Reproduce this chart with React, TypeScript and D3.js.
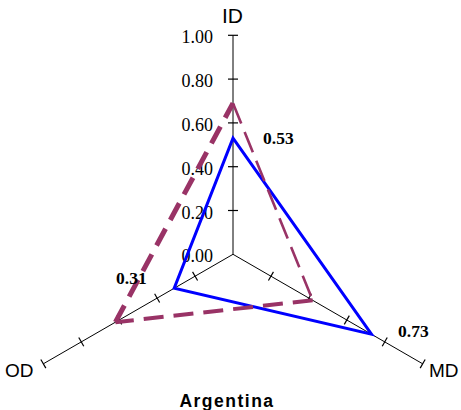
import React from "react";
import * as d3 from "d3";

// Axis names, clockwise from the top
const axes = ["ID", "MD", "OD"];
const axisAngles = [-90, 30, 150];
const tickValues = [0, 0.2, 0.4, 0.6, 0.8, 1.0];
const tickLabels = ["0.00", "0.20", "0.40", "0.60", "0.80", "1.00"];

// Series values on ID, MD, OD
const countryValues = [0.53, 0.73, 0.31];
const referenceValues = [0.69, 0.42, 0.62];
const valueLabels = ["0.53", "0.73", "0.31"];

const title = "Argentina";

const W = 461;
const H = 410;
const cx = 233;
const cy = 254.3;
const R = 219;

const r = d3.scaleLinear().domain([0, 1]).range([0, R]);

function pt(angleDeg: number, v: number): [number, number] {
  const a = (angleDeg * Math.PI) / 180;
  return [cx + r(v) * Math.cos(a), cy + r(v) * Math.sin(a)];
}

const PURPLE = "#993366";
const BLUE = "#0000FF";

export default function App() {
  const line = d3.line<[number, number]>();

  const bluePts = countryValues.map((v, i) => pt(axisAngles[i], v));
  const purplePts = referenceValues.map((v, i) => pt(axisAngles[i], v));

  // per-edge stroke widths of the dashed series: ID-MD, MD-OD, OD-ID
  const dashedEdges = [
    { from: 0, to: 1, width: 2.6, dash: "22,9" },
    { from: 1, to: 2, width: 4, dash: "20,10" },
    { from: 2, to: 0, width: 5, dash: "19,10" },
  ];

  const tickHalf = 5;

  return (
    <svg
      width={W}
      height={H}
      style={{ position: "absolute", left: 0, top: 0, background: "#fff" }}
    >
      {/* axes */}
      {axisAngles.map((ang, i) => {
        const [x2, y2] = pt(ang, 1);
        return (
          <line
            key={"ax" + i}
            x1={cx}
            y1={cy}
            x2={x2}
            y2={y2}
            stroke="#000"
            strokeWidth={1}
          />
        );
      })}
      {/* tick marks */}
      {axisAngles.map((ang, i) =>
        tickValues
          .filter((t) => t > 0)
          .map((t, j) => {
            const [x, y] = pt(ang, t);
            const a = ((ang + 90) * Math.PI) / 180;
            const dx = Math.cos(a) * tickHalf;
            const dy = Math.sin(a) * tickHalf;
            return (
              <line
                key={"tk" + i + "-" + j}
                x1={x - dx}
                y1={y - dy}
                x2={x + dx}
                y2={y + dy}
                stroke="#000"
                strokeWidth={1.2}
              />
            );
          })
      )}
      {/* tick labels on the ID axis */}
      {tickValues.map((t, j) => {
        const [, y] = pt(axisAngles[0], t);
        return (
          <text
            key={"tl" + j}
            x={213}
            y={y + 8}
            textAnchor="end"
            fontFamily="'Liberation Serif', 'Times New Roman', serif"
            fontSize={18}
            fill="#000"
          >
            {tickLabels[j]}
          </text>
        );
      })}

      {/* blue series */}
      <path
        d={line(bluePts) + "Z"}
        fill="none"
        stroke={BLUE}
        strokeWidth={3}
        strokeLinejoin="miter"
      />

      {/* dashed series */}
      {dashedEdges.map((e, k) => (
        <path
          key={"de" + k}
          d={line([purplePts[e.from], purplePts[e.to]]) || ""}
          fill="none"
          stroke={PURPLE}
          strokeWidth={e.width}
          strokeDasharray={e.dash}
          strokeLinecap="butt"
        />
      ))}

      {/* value labels */}
      <text x={263} y={144} fontFamily="'Liberation Serif', serif" fontWeight="bold" fontSize={17.5}>
        {valueLabels[0]}
      </text>
      <text x={398} y={337} fontFamily="'Liberation Serif', serif" fontWeight="bold" fontSize={17.5}>
        {valueLabels[1]}
      </text>
      <text x={116} y={284} fontFamily="'Liberation Serif', serif" fontWeight="bold" fontSize={17.5}>
        {valueLabels[2]}
      </text>

      {/* axis names */}
      <text x={232.5} y={23} textAnchor="middle" fontFamily="'Liberation Sans', Arial, sans-serif" fontSize={21}>
        {axes[0]}
      </text>
      <text x={429} y={377} fontFamily="'Liberation Sans', Arial, sans-serif" fontSize={19}>
        {axes[1]}
      </text>
      <text x={5} y={377} fontFamily="'Liberation Sans', Arial, sans-serif" fontSize={19}>
        {axes[2]}
      </text>

      {/* title */}
      <text
        x={227}
        y={406.5}
        textAnchor="middle"
        fontFamily="'Liberation Sans', Arial, sans-serif"
        fontWeight="bold"
        fontSize={17.5}
        letterSpacing={1.5}
      >
        {title}
      </text>
    </svg>
  );
}
